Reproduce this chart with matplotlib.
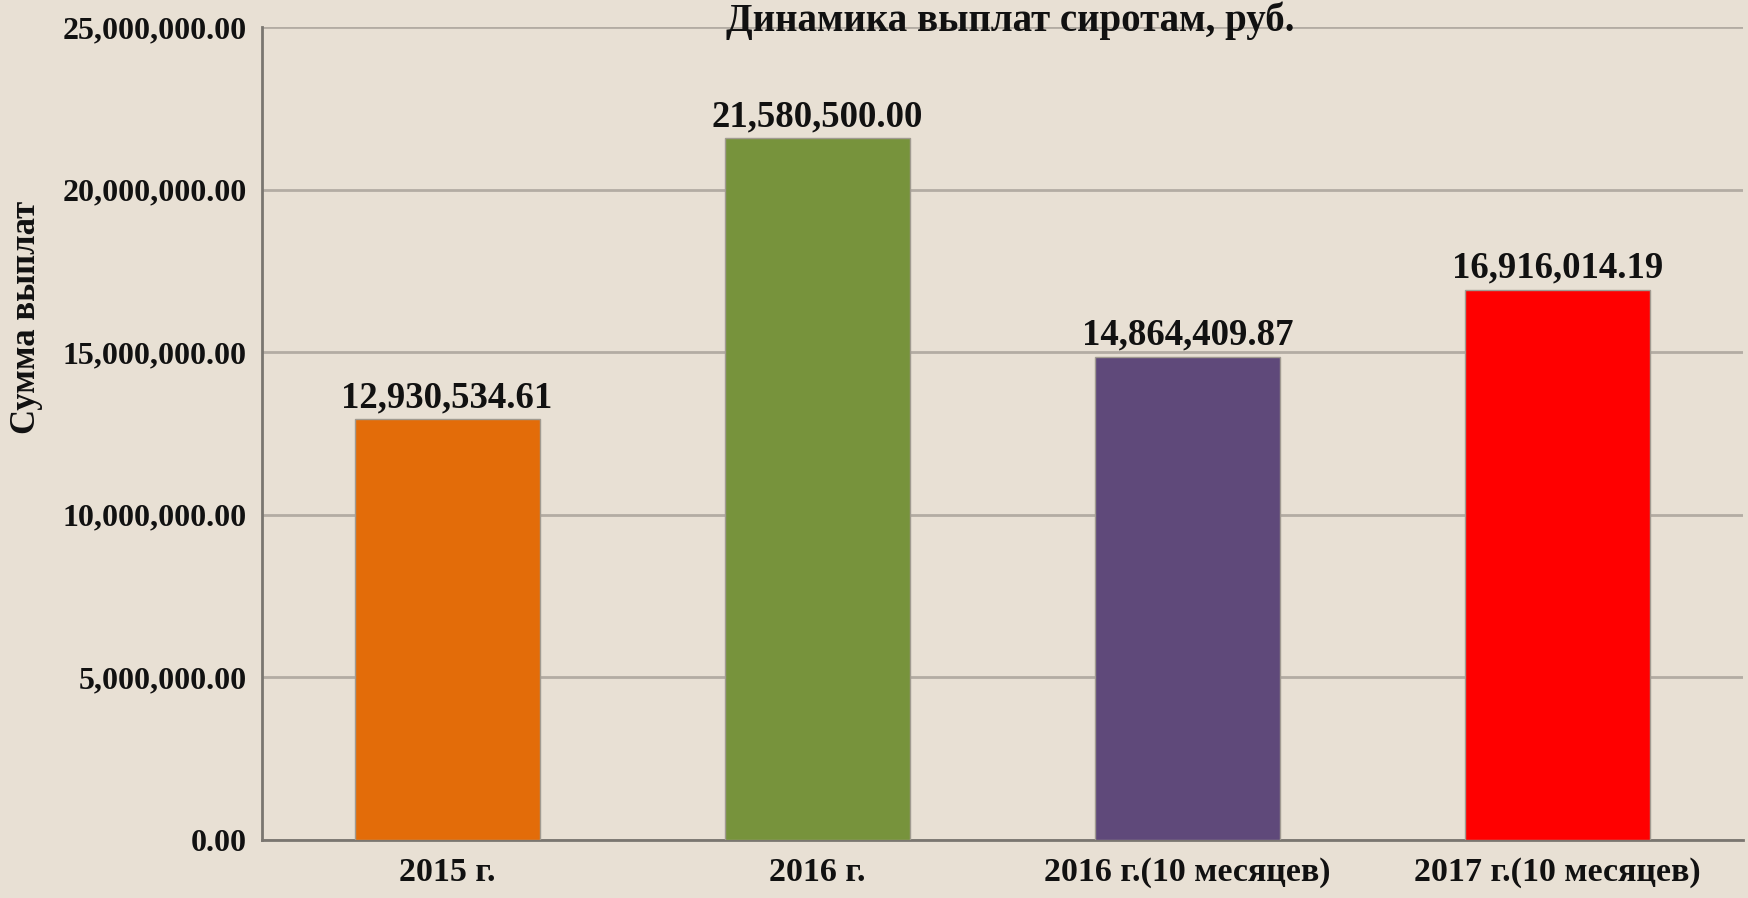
import matplotlib.pyplot as plt
from matplotlib.ticker import FuncFormatter

# Данные: выплаты сиротам, руб.
periods = ['2015 г.', '2016 г.', '2016 г.(10 месяцев)', '2017 г.(10 месяцев)']
payments = [12930534.61, 21580500.00, 14864409.87, 16916014.19]
bar_colors = ['#e36c09', '#77933c', '#5f497a', '#ff0000']
y_ticks = [0, 5000000, 10000000, 15000000, 20000000, 25000000]

bg = '#e8e0d4'
serif = ['Liberation Serif', 'DejaVu Serif']

fig = plt.figure(figsize=(17.48, 8.98), dpi=100, facecolor=bg)
ax = fig.add_axes([0.1499, 0.0646, 0.8471, 0.9054])
ax.set_facecolor(bg)

x = range(len(periods))
bars = ax.bar(x, payments, width=0.5, color=bar_colors, edgecolor='#a09a90', linewidth=1, zorder=3)

for b, v in zip(bars, payments):
    ax.text(b.get_x() + b.get_width() / 2, v + 120000, f'{v:,.2f}', ha='center', va='bottom',
            fontsize=26.5, fontweight='bold', family=serif, color='#111111')

ax.set_xlim(-0.5, len(periods) - 0.5)
ax.set_ylim(0, 25000000)
ax.set_yticks(y_ticks)
ax.yaxis.set_major_formatter(FuncFormatter(lambda v, p: f'{v:,.2f}'))
ax.set_xticks(list(x))
ax.set_xticklabels(periods)
ax.grid(axis='y', color='#b3aca3', linewidth=2, zorder=0)

for lab in ax.get_yticklabels():
    lab.set_family(serif)
    lab.set_fontweight('bold')
    lab.set_fontsize(23)
for lab in ax.get_xticklabels():
    lab.set_family(serif)
    lab.set_fontweight('bold')
    lab.set_fontsize(24.5)

ax.tick_params(axis='both', length=0, colors='#111111')
ax.tick_params(axis='y', pad=11)
ax.tick_params(axis='x', pad=12)

for s in ['top', 'right']:
    ax.spines[s].set_visible(False)
for s in ['left', 'bottom']:
    ax.spines[s].set_color('#7a7670')
    ax.spines[s].set_linewidth(2)

fig.text(0.0149, 0.646, 'Сумма выплат', rotation=90, ha='center', va='center',
         fontsize=25, fontweight='bold', family=serif, color='#111111')
fig.text(0.578, 0.998, 'Динамика выплат сиротам, руб.', ha='center', va='top',
         fontsize=28, fontweight='bold', family=serif, color='#111111')

fig.savefig('out.png', dpi=100, facecolor=bg)
